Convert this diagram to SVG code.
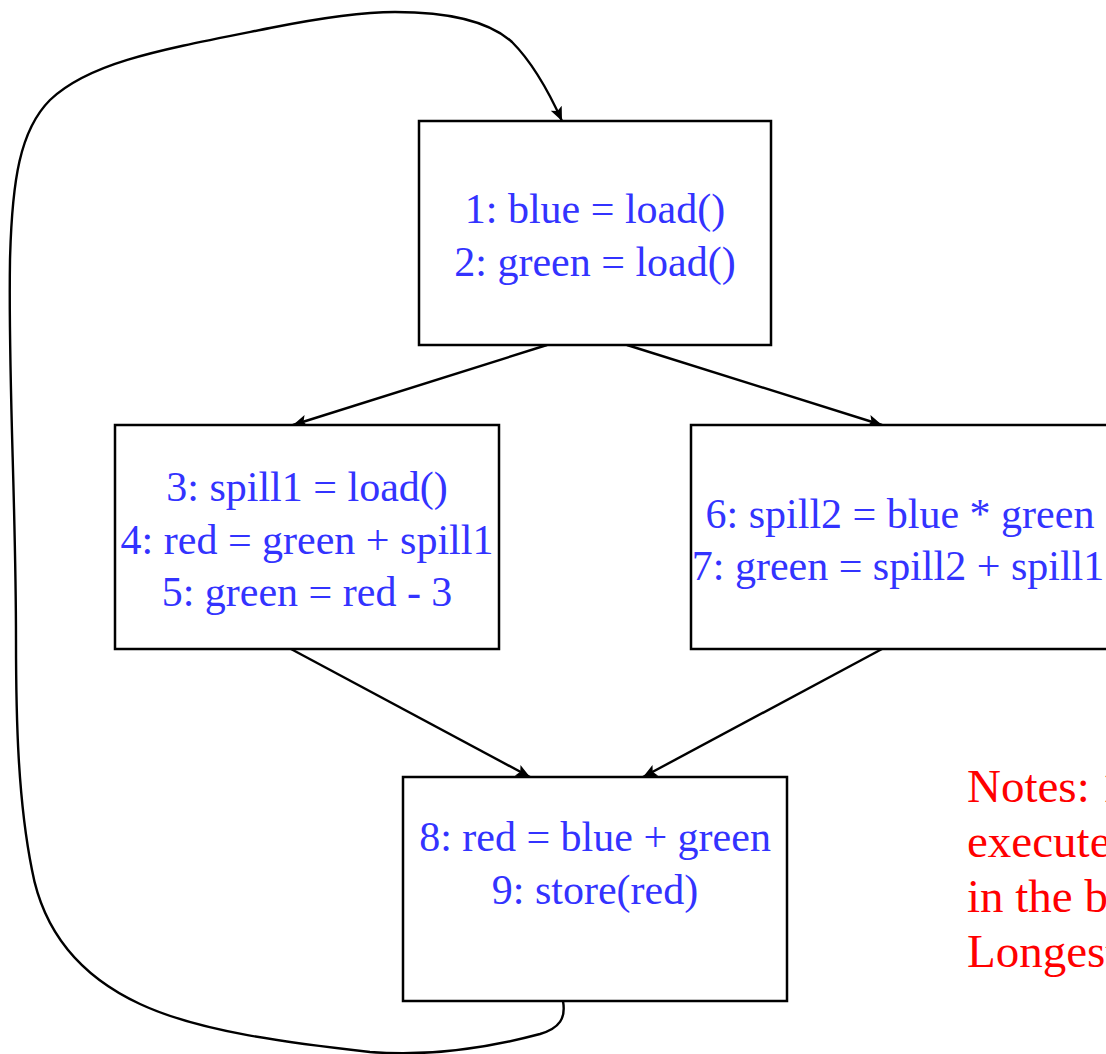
<svg xmlns="http://www.w3.org/2000/svg" width="1106" height="1054" viewBox="0 0 1106 1054">
  <style>
    .box { fill: #ffffff; stroke: #000000; stroke-width: 2.5; }
    .code { font-family: "Liberation Serif", "Times New Roman", serif; font-size: 42px; fill: #3333ff; text-anchor: middle; }
    .note { font-family: "Liberation Serif", "Times New Roman", serif; font-size: 47px; fill: #ff0000; }
    .edge { fill: none; stroke: #000000; stroke-width: 2.4; marker-end: url(#arrow); }
  </style>
  <defs>
    <marker id="arrow" viewBox="0 0 14 14" refX="14" refY="7" markerWidth="14" markerHeight="14" markerUnits="userSpaceOnUse" orient="auto">
      <path d="M0,1 L14,7 L0,13 L3,7 Z" fill="#000000"/>
    </marker>
  </defs>
  <rect width="1106" height="1054" fill="#ffffff"/>

  <g id="connectors">
    <path class="edge" d="M547,345 L293,425"/>
    <path class="edge" d="M627,345 L882,425"/>
    <path class="edge" d="M291,649 L530,777"/>
    <path class="edge" d="M882,649 L643,777"/>
    <!-- back edge from the bottom block round the left side to the entry block -->
    <path class="edge" d="M563,1001 C566,1018 560,1028 540,1034 C480,1050 420,1056 370,1052 C290,1043 200,1032 140,1004 C82,977 44,935 32,870 C18,800 16,720 16,640 C16,500 8,380 10,260 C12,180 20,130 50,100 C90,62 160,50 270,28 C320,18 360,12 395,12 C450,12 490,22 512,42 C532,62 548,90 562,121"/>
  </g>

  <g id="block1">
    <rect class="box" x="419" y="121" width="352" height="224"/>
    <text class="code" x="595" y="223">1: blue = load()</text>
    <text class="code" x="595" y="276">2: green = load()</text>
  </g>

  <g id="block2">
    <rect class="box" x="115" y="425" width="384" height="224"/>
    <text class="code" x="307" y="501">3: spill1 = load()</text>
    <text class="code" x="307" y="554">4: red = green + spill1</text>
    <text class="code" x="307" y="606">5: green = red - 3</text>
  </g>

  <g id="block3">
    <rect class="box" x="691" y="425" width="430" height="224"/>
    <text class="code" x="900" y="528">6: spill2 = blue * green</text>
    <text class="code" x="898" y="580">7: green = spill2 + spill1</text>
  </g>

  <g id="block4">
    <rect class="box" x="403" y="777" width="384" height="224"/>
    <text class="code" x="595" y="851">8: red = blue + green</text>
    <text class="code" x="595" y="904">9: store(red)</text>
  </g>

  <g id="notes">
    <text class="note" x="967" y="802">Notes: 1</text>
    <text class="note" x="967" y="857">executed</text>
    <text class="note" x="967" y="912">in the b</text>
    <text class="note" x="967" y="967">Longest</text>
  </g>
</svg>
